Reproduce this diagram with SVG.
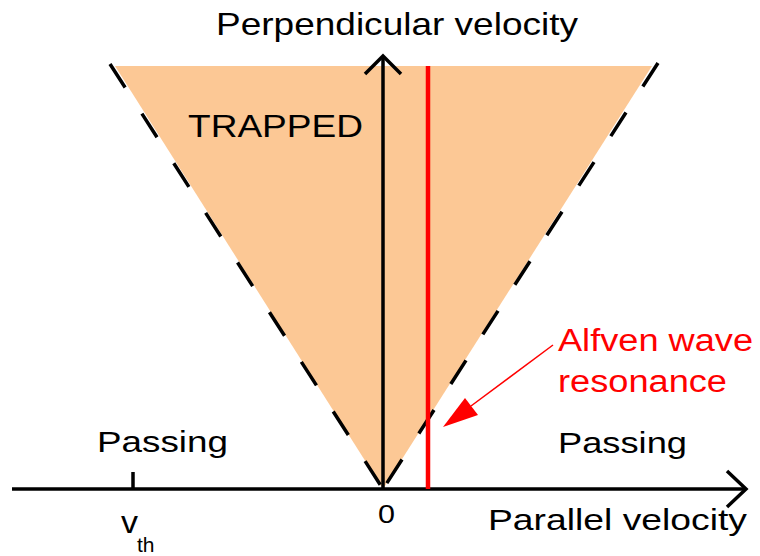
<svg xmlns="http://www.w3.org/2000/svg" width="760" height="556" viewBox="0 0 760 556">
<defs>
<style>
.t{font-family:"Liberation Sans",Arial,sans-serif;fill:#000}
.r{fill:#ff0000}
.ax{stroke:#000;stroke-width:3.5;fill:none}
.dash{stroke:#000;stroke-width:3.5;fill:none;stroke-dasharray:28 31}
</style>
</defs>
<rect width="760" height="556" fill="#fff"/>
<g id="trapped-region">
<polygon points="115,66 652,66 383,489" fill="#fcc895"/>
<text class="t" x="188" y="137" font-size="31" textLength="175" lengthAdjust="spacingAndGlyphs">TRAPPED</text>
</g>
<g id="connectors">
<path class="dash" d="M110,64 L383,489"/>
<path class="dash" d="M658,63 L383,489"/>
<path class="ax" d="M12,489 L745,489"/>
<path class="ax" d="M727,471 L746,489 L727,507"/>
<path class="ax" d="M383,489 L383,57"/>
<path class="ax" d="M365,74 L383,56 L401,74"/>
<path class="ax" d="M133,472 L133,489"/>
<path d="M428,66 L428,489" stroke="#ff0000" stroke-width="4.5" fill="none"/>
<path d="M553,345 L471,406" stroke="#ff0000" stroke-width="1.5" fill="none"/>
<polygon points="443,427 465,398 478,415" fill="#ff0000"/>
</g>
<g id="labels">
<text class="t" x="216" y="35" font-size="32" textLength="362" lengthAdjust="spacingAndGlyphs">Perpendicular velocity</text>
<text class="t" x="488" y="530" font-size="30" textLength="259" lengthAdjust="spacingAndGlyphs">Parallel velocity</text>
<text class="t" x="378" y="523" font-size="26" textLength="17" lengthAdjust="spacingAndGlyphs">0</text>
<text class="t" x="97" y="452" font-size="29" textLength="131" lengthAdjust="spacingAndGlyphs">Passing</text>
<text class="t" x="558" y="453" font-size="29" textLength="129" lengthAdjust="spacingAndGlyphs">Passing</text>
<text class="t" x="121" y="533" font-size="32" textLength="17" lengthAdjust="spacingAndGlyphs">v</text>
<text class="t" x="137" y="552" font-size="21">th</text>
</g>
<g id="alfven-label">
<text class="t r" x="558" y="351" font-size="31" textLength="195" lengthAdjust="spacingAndGlyphs">Alfven wave</text>
<text class="t r" x="558" y="392" font-size="31" textLength="169" lengthAdjust="spacingAndGlyphs">resonance</text>
</g>
</svg>
